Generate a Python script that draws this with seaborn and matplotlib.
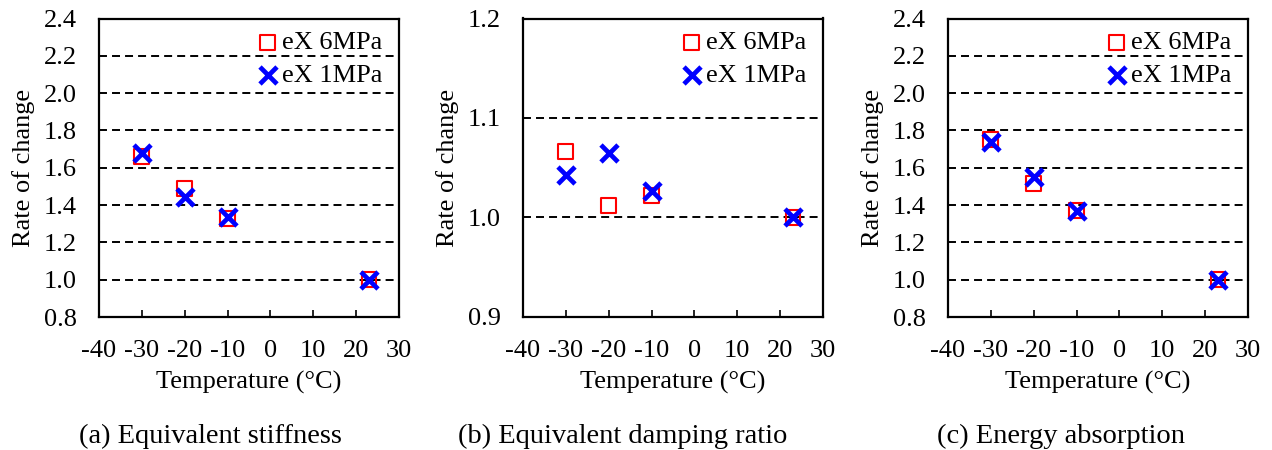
import matplotlib
matplotlib.use("Agg")
import matplotlib.pyplot as plt
import seaborn as sns
import pandas as pd
from matplotlib.ticker import MultipleLocator, FormatStrFormatter

# ---- data ----
temps = [-30, -20, -10, 23]
stiff_6mpa = [1.66, 1.49, 1.33, 1.00]
stiff_1mpa = [1.68, 1.445, 1.335, 1.00]
damp_6mpa = [1.066, 1.012, 1.022, 1.000]
damp_1mpa = [1.043, 1.065, 1.027, 1.001]
energy_6mpa = [1.75, 1.515, 1.37, 1.00]
energy_1mpa = [1.74, 1.55, 1.37, 1.00]
series_labels = ["eX 6MPa", "eX 1MPa"]
captions = ["(a) Equivalent stiffness", "(b) Equivalent damping ratio", "(c) Energy absorption"]
x_ticks = [-40, -30, -20, -10, 0, 10, 20, 30]
xlabel = "Temperature (°C)"
ylabel = "Rate of change"

sns.set_style("white")
plt.rcParams['font.family'] = ['Liberation Serif', 'DejaVu Serif']
plt.rcParams['axes.unicode_minus'] = False
plt.rcParams['text.color'] = 'black'
plt.rcParams['axes.labelcolor'] = 'black'
plt.rcParams['xtick.color'] = 'black'
plt.rcParams['ytick.color'] = 'black'

W, H = 1272, 450
fig = plt.figure(figsize=(W / 100, H / 100), dpi=100)

panels = [
    (stiff_6mpa, stiff_1mpa, (0.8, 2.4), 0.2),
    (damp_6mpa, damp_1mpa, (0.9, 1.2), 0.1),
    (energy_6mpa, energy_1mpa, (0.8, 2.4), 0.2),
]
ax_left_px = [99, 523, 948]
ax_w_px = 300
ax_top_px, ax_bot_px = 18.5, 317
caption_cx_px = [210, 623, 1061]

FS = 19
for i, (s6, s1, ylim, ystep) in enumerate(panels):
    ax = fig.add_axes([ax_left_px[i] / W, 1 - ax_bot_px / H, ax_w_px / W, (ax_bot_px - ax_top_px) / H])
    df = pd.DataFrame({"T": temps, "v6": s6, "v1": s1})
    sns.scatterplot(data=df, x="T", y="v6", ax=ax, marker="s", s=115,
                    facecolor="none", edgecolor="#ff0000", linewidth=1.5,
                    label=series_labels[0], zorder=3)
    sns.scatterplot(data=df, x="T", y="v1", ax=ax, marker="x", s=150,
                    color="#0000ff", linewidth=3.4,
                    label=series_labels[1], zorder=4)
    ax.set_xlim(-40, 30)
    ax.set_xticks(x_ticks)
    ax.set_ylim(*ylim)
    ax.yaxis.set_major_locator(MultipleLocator(ystep))
    ax.yaxis.set_major_formatter(FormatStrFormatter('%.1f'))
    ax.yaxis.grid(True, color='black', linestyle=(0, (4.1, 2.6)), linewidth=1.4)
    ax.xaxis.grid(False)
    ax.set_axisbelow(True)
    for sp in ax.spines.values():
        sp.set_color('black')
        sp.set_linewidth(1.6)
        sp.set_visible(True)
    ax.tick_params(axis='x', direction='in', length=5, width=1.2, pad=16.5,
                   labelsize=FS, colors='black', bottom=True)
    ax.tick_params(axis='y', direction='in', length=0, pad=16,
                   labelsize=FS, colors='black', left=True)
    ax.set_xlabel(xlabel, fontsize=FS, labelpad=6.5, color='black')
    ax.set_ylabel(ylabel, fontsize=FS, labelpad=6, color='black')
    leg = ax.legend(loc='upper right', bbox_to_anchor=(0.972, 0.986), frameon=False,
                    fontsize=FS, handlelength=0.8, handletextpad=0.15,
                    labelspacing=0.37, borderaxespad=0.0, borderpad=0.3)
    for t in leg.get_texts():
        t.set_color('black')
    fig.text(caption_cx_px[i] / W, 1 - 443 / H, captions[i], ha='center',
             va='baseline', fontsize=20.5, color='black')

fig.savefig("out.png", dpi=100)
